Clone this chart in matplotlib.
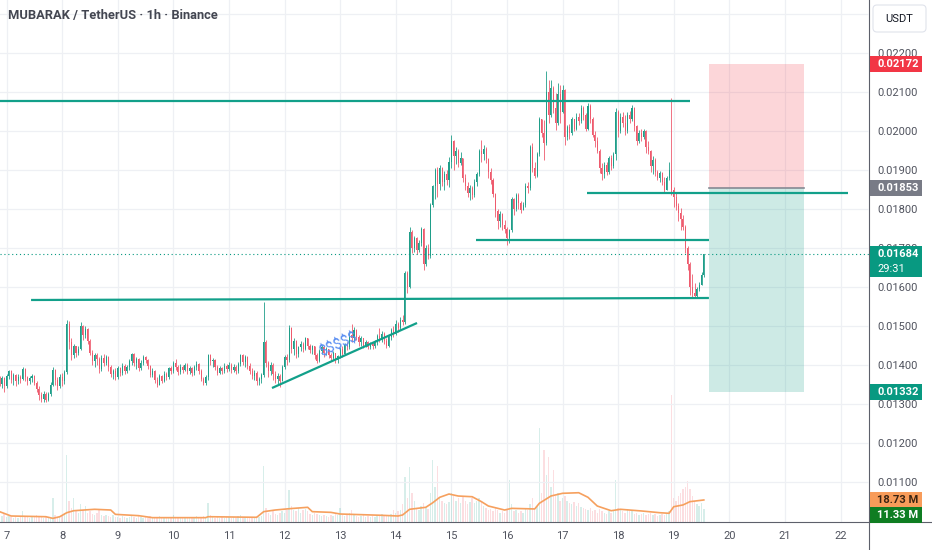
import numpy as np
import matplotlib.pyplot as plt
from matplotlib.patches import Rectangle, FancyBboxPatch
from matplotlib.lines import Line2D

plt.rcParams['font.family'] = ['Roboto', 'DejaVu Sans']

#DATI: PREZZI IN UNITA' DI 1e-5 USDT, CANDELE DA 1 ORA
#PRIMA CANDELA: GIORNO 6 ORE 21, ULTIMA: GIORNO 19 ORE 13
titolo = 'MUBARAK / TetherUS · 1h · Binance'
ora_prima_candela = 21
primo_open = 1365
chiusure = [
    1352, 1366, 1345,
    1372, 1385, 1362, 1375, 1358, 1370, 1364, 1390, 1368, 1360, 1366, 1372, 1355, 1338, 1322, 1312, 1326, 1310, 1325, 1350, 1388, 1362, 1346, 1370,
    1360, 1382, 1505, 1458, 1425, 1448, 1430, 1442, 1500, 1478, 1492, 1462, 1432, 1410, 1425, 1415, 1390, 1418, 1405, 1420, 1395, 1378, 1385, 1370,
    1392, 1380, 1398, 1385, 1395, 1410, 1428, 1405, 1415, 1392, 1405, 1420, 1412, 1398, 1375, 1385, 1362, 1350, 1372, 1360, 1378, 1370, 1392, 1385,
    1405, 1395, 1382, 1396, 1388, 1400, 1385, 1392, 1380, 1394, 1402, 1385, 1365, 1355, 1368, 1425, 1410, 1412, 1395, 1380, 1392, 1385, 1398, 1390,
    1400, 1388, 1396, 1384, 1402, 1425, 1408, 1420, 1398, 1385, 1372, 1380, 1358, 1365, 1375, 1458, 1405, 1385, 1400, 1378, 1365, 1372, 1360, 1395,
    1420, 1412, 1495, 1440, 1462, 1428, 1445, 1455, 1440, 1468, 1450, 1438, 1448, 1425, 1410, 1435, 1445, 1430, 1440, 1425, 1418, 1430, 1412, 1422,
    1440, 1428, 1452, 1445, 1478, 1468, 1490, 1472, 1460, 1468, 1450, 1458, 1445, 1456, 1448, 1460, 1475, 1465, 1480, 1462, 1450, 1472, 1490, 1480,
    1505, 1495, 1515, 1510, 1635, 1600, 1742, 1700, 1725, 1695, 1712, 1748, 1660, 1700, 1680, 1810, 1858, 1900, 1865, 1905, 1870, 1890, 1875, 1920,
    1975, 1935, 1950, 1918, 1930, 1880, 1860, 1842, 1855, 1835, 1870, 1890, 1950, 1940, 1955, 1928, 1895, 1875, 1838, 1795, 1770, 1788, 1760, 1750,
    1725, 1745, 1825, 1800, 1835, 1815, 1798, 1810, 1860, 1855, 1960, 1905, 1885, 1940, 2030, 1995, 1970, 2100, 2040, 2110, 2060, 2020, 2095, 2050,
    2105, 1985, 2010, 1995, 2030, 2005, 2035, 2025, 2060, 2040, 2005, 2065, 2030, 1990, 1975, 1950, 1905, 1890, 1912, 1895, 1930, 1910, 1940, 2050,
    2000, 2035, 2020, 2000, 2040, 2030, 2060, 2012, 1975, 1995, 1985, 2000, 1960, 1948, 1910, 1925, 1895, 1880, 1892, 1870, 1850, 1880, 1900, 1848,
    1830, 1808, 1790, 1775, 1755, 1700, 1660, 1600, 1585, 1578, 1595, 1605, 1630, 1684,
]
massimi = [
    1372, 1372, 1370,
    1378, 1387, 1386, 1380, 1378, 1376, 1375, 1395, 1392, 1372, 1371, 1378, 1374, 1360, 1345, 1330, 1334, 1330, 1332, 1356, 1395, 1390, 1368, 1376,
    1380, 1387, 1515, 1512, 1470, 1455, 1450, 1448, 1510, 1503, 1500, 1495, 1466, 1438, 1432, 1430, 1420, 1425, 1428, 1426, 1422, 1400, 1390, 1392,
    1398, 1395, 1405, 1402, 1400, 1416, 1431, 1430, 1420, 1418, 1412, 1425, 1424, 1415, 1400, 1392, 1388, 1368, 1378, 1375, 1384, 1382, 1396, 1398,
    1410, 1415, 1400, 1402, 1400, 1405, 1404, 1398, 1396, 1400, 1410, 1405, 1390, 1370, 1374, 1428, 1428, 1418, 1415, 1400, 1398, 1396, 1404, 1402,
    1408, 1404, 1402, 1400, 1408, 1428, 1428, 1425, 1422, 1405, 1392, 1388, 1385, 1370, 1380, 1562, 1465, 1410, 1408, 1405, 1385, 1380, 1378, 1400,
    1426, 1428, 1503, 1498, 1470, 1465, 1450, 1462, 1458, 1472, 1470, 1455, 1452, 1450, 1430, 1440, 1451, 1448, 1446, 1442, 1430, 1436, 1432, 1426,
    1446, 1448, 1456, 1458, 1485, 1505, 1498, 1492, 1478, 1475, 1470, 1465, 1462, 1460, 1460, 1465, 1480, 1495, 1488, 1484, 1468, 1478, 1495, 1500,
    1515, 1510, 1522, 1528, 1640, 1640, 1754, 1745, 1730, 1728, 1720, 1754, 1752, 1708, 1710, 1815, 1862, 1905, 1908, 1912, 1908, 1898, 1900, 1933,
    1990, 1978, 1959, 1955, 1945, 1932, 1890, 1868, 1862, 1860, 1878, 1895, 1955, 1977, 1965, 1958, 1932, 1905, 1880, 1840, 1800, 1795, 1790, 1772,
    1755, 1750, 1830, 1828, 1841, 1840, 1820, 1818, 1867, 1870, 1965, 1969, 1920, 1945, 2036, 2030, 2028, 2154, 2131, 2131, 2115, 2097, 2123, 2118,
    2118, 2108, 2015, 2018, 2036, 2030, 2046, 2045, 2067, 2064, 2045, 2072, 2070, 2036, 2000, 1985, 1955, 1918, 1921, 1920, 1935, 1938, 1946, 2059,
    2054, 2045, 2048, 2040, 2048, 2052, 2067, 2062, 2015, 2003, 2005, 2006, 2002, 1975, 1952, 1935, 1930, 1900, 1898, 1895, 1882, 1885, 1920, 2085,
    1856, 1840, 1815, 1803, 1785, 1760, 1705, 1665, 1633, 1610, 1600, 1612, 1638, 1685,
]
minimi = [
    1345, 1340, 1331,
    1340, 1365, 1355, 1350, 1346, 1352, 1354, 1362, 1360, 1349, 1352, 1356, 1348, 1330, 1310, 1305, 1306, 1305, 1308, 1320, 1345, 1350, 1336, 1340,
    1345, 1352, 1378, 1440, 1413, 1418, 1420, 1425, 1438, 1465, 1470, 1455, 1425, 1400, 1395, 1400, 1380, 1385, 1398, 1400, 1385, 1370, 1364, 1362,
    1365, 1372, 1375, 1378, 1380, 1388, 1400, 1398, 1390, 1385, 1388, 1400, 1405, 1390, 1368, 1370, 1355, 1344, 1348, 1354, 1356, 1362, 1365, 1378,
    1380, 1388, 1375, 1378, 1380, 1384, 1378, 1376, 1372, 1375, 1388, 1378, 1358, 1349, 1350, 1362, 1400, 1395, 1388, 1374, 1376, 1378, 1380, 1382,
    1385, 1380, 1382, 1378, 1380, 1398, 1400, 1395, 1390, 1378, 1365, 1362, 1350, 1349, 1355, 1370, 1395, 1370, 1375, 1362, 1355, 1350, 1344, 1358,
    1390, 1400, 1408, 1432, 1425, 1418, 1420, 1435, 1433, 1438, 1440, 1430, 1428, 1415, 1405, 1408, 1428, 1420, 1425, 1418, 1410, 1412, 1405, 1405,
    1418, 1420, 1425, 1438, 1440, 1460, 1462, 1465, 1450, 1448, 1444, 1445, 1440, 1440, 1442, 1444, 1452, 1458, 1460, 1455, 1444, 1446, 1465, 1472,
    1478, 1485, 1490, 1502, 1505, 1585, 1598, 1688, 1690, 1685, 1690, 1705, 1644, 1655, 1672, 1675, 1805, 1825, 1830, 1850, 1860, 1850, 1862, 1856,
    1905, 1900, 1915, 1908, 1912, 1870, 1850, 1830, 1823, 1825, 1830, 1860, 1885, 1920, 1925, 1918, 1880, 1865, 1830, 1780, 1750, 1755, 1746, 1738,
    1708, 1712, 1740, 1785, 1795, 1800, 1790, 1797, 1805, 1840, 1850, 1895, 1880, 1882, 1935, 1985, 1926, 1965, 2020, 2035, 2046, 2003, 2015, 2020,
    2045, 1964, 1977, 1980, 1990, 2000, 2002, 2015, 2020, 2028, 2000, 2002, 2020, 1985, 1960, 1944, 1892, 1874, 1880, 1888, 1890, 1900, 1905, 1926,
    1985, 1995, 2010, 1990, 1995, 2020, 2025, 2000, 1964, 1968, 1975, 1980, 1944, 1940, 1895, 1890, 1885, 1874, 1870, 1862, 1844, 1848, 1875, 1835,
    1805, 1797, 1770, 1746, 1746, 1687, 1644, 1580, 1574, 1572, 1575, 1590, 1605, 1626,
]
#VOLUMI IN MILIONI
volumi = [
    6, 5, 8,
    4, 5, 4, 3, 4, 3, 4, 9, 5, 4, 3, 4, 5, 6, 5, 4, 3, 4, 3, 4, 20, 6, 4, 5,
    6, 8, 57, 18, 12, 20, 9, 8, 15, 10, 14, 8, 9, 7, 6, 8, 10, 6, 5, 6, 5, 4, 6, 4,
    4, 3, 5, 4, 3, 4, 6, 4, 3, 5, 4, 3, 4, 3, 5, 4, 3, 4, 5, 3, 4, 3, 4, 3,
    6, 4, 3, 4, 3, 4, 3, 4, 3, 4, 5, 3, 4, 5, 4, 16, 6, 4, 3, 4, 3, 4, 3, 4,
    4, 3, 4, 3, 5, 6, 4, 3, 4, 3, 4, 3, 5, 4, 5, 48, 12, 8, 6, 10, 7, 6, 8, 9,
    8, 10, 27, 14, 10, 9, 12, 8, 10, 11, 9, 7, 6, 8, 7, 6, 5, 6, 5, 4, 6, 5, 7, 6,
    12, 6, 5, 7, 8, 10, 7, 5, 4, 5, 6, 4, 5, 4, 5, 4, 6, 5, 7, 5, 6, 5, 7, 10,
    8, 9, 10, 15, 38, 20, 47, 25, 18, 12, 10, 14, 16, 12, 11, 25, 53, 30, 48, 20, 18, 16, 15, 17,
    25, 22, 18, 20, 16, 22, 18, 15, 17, 20, 16, 18, 20, 18, 14, 12, 10, 11, 9, 12, 10, 8, 9, 8,
    10, 36, 15, 9, 10, 8, 9, 8, 12, 10, 15, 20, 12, 14, 80, 25, 61, 40, 55, 30, 44, 22, 25, 18,
    20, 22, 18, 16, 15, 17, 14, 16, 13, 12, 11, 10, 12, 9, 10, 8, 11, 9, 8, 7, 9, 8, 10, 36,
    12, 10, 9, 8, 11, 9, 10, 7, 8, 6, 7, 8, 6, 7, 8, 6, 7, 5, 6, 7, 6, 8, 9, 108,
    20, 18, 22, 25, 28, 30, 35, 28, 22, 18, 15, 14, 16, 11.33,
]
#MEDIA MOBILE DEI VOLUMI (LETTA A PUNTI)
ma_idx = [0, 5, 20, 23, 26, 29, 32, 41, 48, 50, 60, 66, 89, 90, 111, 114, 119, 125, 133, 135, 143, 147, 165, 172,
          174, 177, 184, 187, 190, 194, 198, 204, 208, 211, 218, 221, 231, 233, 238, 243, 250, 254, 258, 264, 268,
          277, 285, 289, 291, 295, 298, 304]
ma_val = [8.8, 5.1, 4.5, 3.1, 4.5, 7.9, 9.6, 10.8, 10.2, 6.5, 5.4, 3.7, 3.7, 4.5, 4.0, 8.8, 10.2, 11.3, 12.5, 8.8,
          8.2, 6.8, 5.7, 5.1, 6.0, 10.8, 12.5, 16.4, 21.0, 23.8, 22.1, 21.5, 17.3, 13.6, 10.2, 11.6, 11.1, 15.9,
          22.1, 24.4, 24.9, 21.0, 13.6, 9.6, 10.8, 9.4, 7.9, 7.4, 13.0, 14.5, 17.3, 18.73]

giorni = [7, 8, 9, 10, 11, 12, 13, 14, 15, 16, 17, 18, 19, 20, 21, 22]
prezzi_tick = [0.011, 0.012, 0.013, 0.014, 0.015, 0.016, 0.017, 0.018, 0.019, 0.020, 0.021, 0.022]

#DISEGNI: LINEE (indice candela inizio, fine, prezzo inizio, fine)
linee = [(-5, 298.0, 0.020769, 0.020769),
         (253.6, 366.2, 0.018423, 0.018423),
         (205.7, 306.2, 0.017205, 0.017205),
         (13.6, 306.2, 0.015667, 0.015718),
         (117.6, 180.2, 0.013410, 0.015077)]
box_inizio, box_fine = 306.2, 347.2
stop, entrata, target = 0.02172, 0.01853, 0.01332
ultimo_prezzo = 0.01684
conto_alla_rovescia = '29:31'
ultimo_volume = 11.33

VERDE = '#089981'
ROSSO = '#f23645'
VERDE_CANDELA = '#1f9e89'
ROSSO_CANDELA = '#ee5b6e'

o = np.array([primo_open] + chiusure[:-1]) * 1e-5
c = np.array(chiusure) * 1e-5
h = np.maximum(np.array(massimi) * 1e-5, np.maximum(o, c))
l = np.minimum(np.array(minimi) * 1e-5, np.minimum(o, c))
idx = np.arange(len(c))
su = c >= o
colori = np.where(su, VERDE_CANDELA, ROSSO_CANDELA)

fig = plt.figure(figsize=(9.32, 5.5), dpi=100)
rett = [0, 28/550, 869/932, 522/550]
axv = fig.add_axes(rett)
ax = fig.add_axes(rett, sharex=axv)
ax.set_zorder(2)
ax.patch.set_visible(False)

y_min, y_max = 0.0099744, 0.023359
ax.set_xlim(0.19, 375.3)
ax.set_ylim(y_min, y_max)
axv.set_ylim(0, 444)

#GRIGLIA
pos_giorni = [(g - 6) * 24 - ora_prima_candela for g in giorni]
for p in prezzi_tick + [0.023]:
    ax.axhline(p, color='#eef0f4', lw=0.9, zorder=0)
for x in pos_giorni:
    axv.axvline(x, color='#eef0f4', lw=0.9, zorder=0)

#VOLUMI
colori_vol = [(0.03, 0.6, 0.5, 0.16) if s else (0.95, 0.21, 0.27, 0.16) for s in su]
axv.bar(idx, volumi, width=0.6, color=colori_vol, zorder=1)
axv.plot(ma_idx, ma_val, color='#f6a05e', lw=1.2, zorder=2)
axv.axis('off')

#CANDELE
ax.vlines(idx, l, h, colors=colori, lw=0.6, zorder=3)
ax.bar(idx, np.maximum(np.abs(c - o), 0.000008), bottom=np.minimum(o, c), width=0.45,
       color=colori, zorder=3)

#POSIZIONE SHORT
ax.add_patch(Rectangle((box_inizio, entrata), box_fine - box_inizio, stop - entrata,
                       facecolor=ROSSO, alpha=0.2, lw=0, zorder=2))
ax.add_patch(Rectangle((box_inizio, target), box_fine - box_inizio, entrata - target,
                       facecolor=VERDE, alpha=0.2, lw=0, zorder=2))
ax.plot([box_inizio, box_fine], [entrata, entrata], color='#868993', lw=1.2, zorder=4)

for x0, x1, y0, y1 in linee:
    ax.plot([x0, x1], [y0, y1], color='#12a08a', lw=1.6, solid_capstyle='butt', zorder=5)

ax.axhline(ultimo_prezzo, color=VERDE, lw=0.8, ls=(0, (1, 2.5)), zorder=4)
ax.text(146.5, 0.014513, '$$$$$', color='#5b8ff2', fontsize=10.5, rotation=24,
        ha='center', va='center', zorder=6)

#ASSI
ax.yaxis.tick_right()
ax.set_yticks(prezzi_tick)
ax.set_yticklabels([f'{p:.5f}' for p in prezzi_tick])
ax.set_xticks(pos_giorni)
ax.set_xticklabels([str(g) for g in giorni])
ax.tick_params(axis='y', length=0, pad=6, labelsize=8, labelcolor='#50535e')
ax.tick_params(axis='x', length=0, pad=6.5, labelsize=8, labelcolor='#50535e')
for s in ax.spines.values():
    s.set_visible(False)

fig.add_artist(Line2D([0, 1], [28/550, 28/550], color='#5d606b', lw=0.8))
fig.add_artist(Line2D([869/932, 869/932], [0, 1], color='#5d606b', lw=0.8))

fig.text(8/932, 1 - 16/550, titolo, fontsize=9.3, color='#434651', weight='semibold', va='center')

#ETICHETTE A DESTRA (coordinate in pixel)
ov = fig.add_axes([0, 0, 1, 1])
ov.set_xlim(0, 932)
ov.set_ylim(550, 0)
ov.axis('off')
ov.set_zorder(10)
ov.patch.set_visible(False)


def y_pix(asse, val):
    return 550 - asse.transData.transform((0, val))[1]


def etichetta(y, testo, sfondo, colore_testo='white', altezza=16):
    ov.add_patch(Rectangle((870, y - 8), 52, altezza, facecolor=sfondo, lw=0))
    ov.text(877, y, testo, color=colore_testo, fontsize=8, weight='bold', va='center')


etichetta(y_pix(ax, stop), f'{stop:.5f}', ROSSO)
etichetta(y_pix(ax, entrata), f'{entrata:.5f}', '#787b86')
y_ult = y_pix(ax, ultimo_prezzo)
etichetta(y_ult, f'{ultimo_prezzo:.5f}', VERDE, altezza=31)
ov.text(877, y_ult + 15, conto_alla_rovescia, color='white', fontsize=8, va='center')
etichetta(y_pix(ax, target), f'{target:.5f}', VERDE)
y_ma = y_pix(axv, ma_val[-1])
etichetta(y_ma, f'{ma_val[-1]:.2f} M', '#f89c5a', colore_testo='#3b2412')
etichetta(y_ma + 15, f'{ultimo_volume:.2f} M', '#0f7d22')

ov.add_patch(FancyBboxPatch((873, 5), 53, 27, boxstyle='round,pad=0,rounding_size=4',
                            facecolor='white', edgecolor='#e0e3eb', lw=0.8))
ov.text(899.5, 18.5, 'USDT', fontsize=8, color='#131722', ha='center', va='center')

plt.savefig('out.png', dpi=100)
